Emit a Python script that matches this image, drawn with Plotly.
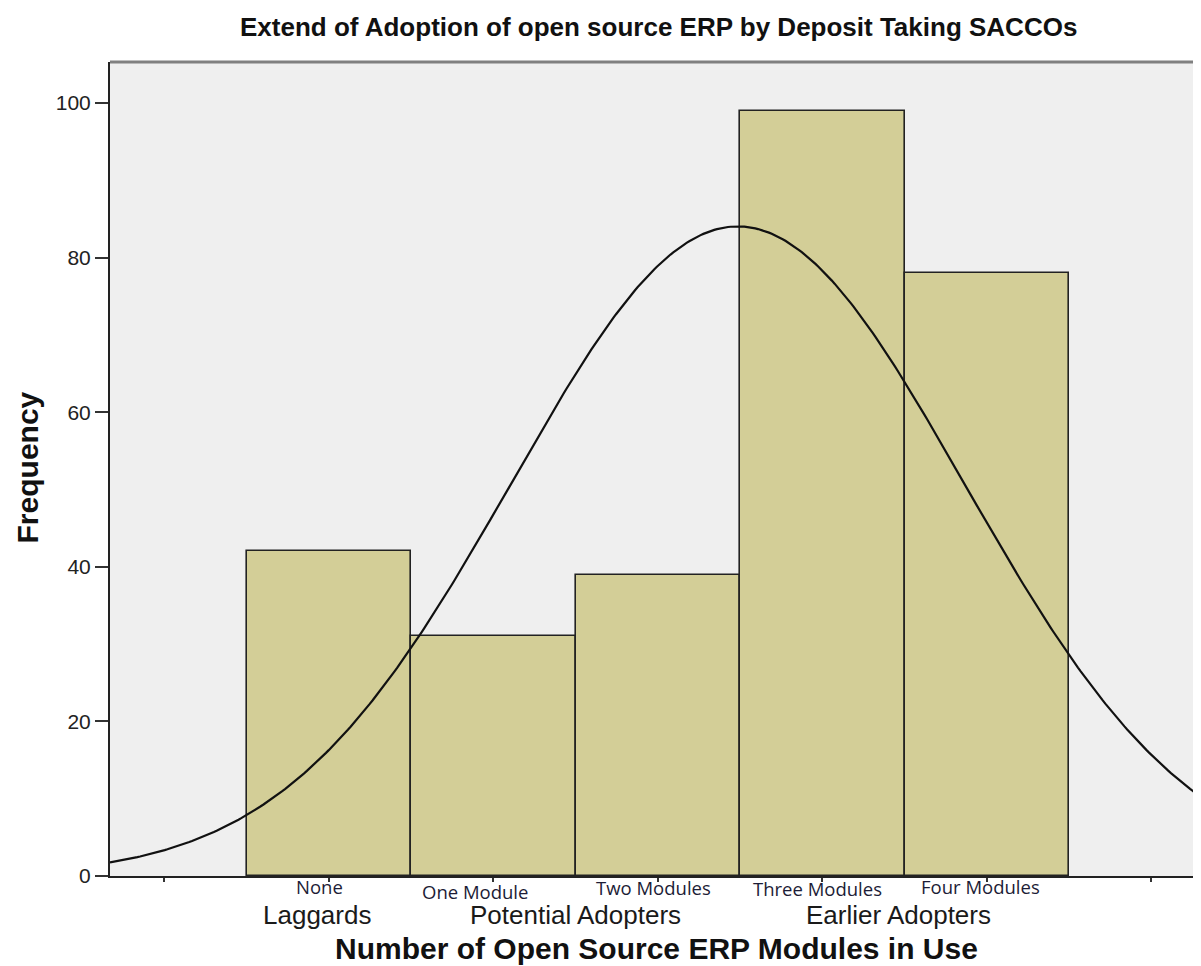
import numpy as np
import plotly.graph_objects as go

# Data
modules = [0, 1, 2, 3, 4]
category_labels = ["None", "One Module", "Two Modules", "Three Modules", "Four Modules"]
frequencies = [42, 31, 39, 99, 78]
groups = ["Laggards", "Potential Adopters", "Earlier Adopters"]
group_x = [-0.073, 1.50, 3.465]
y_ticks = [0, 20, 40, 60, 80, 100]
x_ticks = [-1, 0, 1, 2, 3, 4, 5]

# Fitted normal curve (as SPSS draws it) from the frequency distribution
n_total = sum(frequencies)
vals = np.array(modules, dtype=float)
f = np.array(frequencies, dtype=float)
mean = (vals * f).sum() / n_total
sd = np.sqrt(((vals - mean) ** 2 * f).sum() / (n_total - 1))
x_min, x_max = -1.331, 5.301
xc = np.linspace(x_min, x_max, 400)
yc = n_total / (sd * np.sqrt(2 * np.pi)) * np.exp(-0.5 * ((xc - mean) / sd) ** 2)

fig = go.Figure()
fig.add_trace(go.Bar(
    x=modules, y=frequencies, width=1.0,
    marker=dict(color="#d3ce97", line=dict(color="#222222", width=1.6)),
    showlegend=False, hoverinfo="x+y"))
fig.add_trace(go.Scatter(
    x=xc, y=yc, mode="lines", line=dict(color="#111111", width=2.2),
    showlegend=False, hoverinfo="skip"))

ann = []
label_dx = [-0.055, -0.11, -0.03, -0.03, -0.04]
label_py = [-0.0132, -0.0192, -0.0142, -0.0155, -0.013]
for m, lab, dx, py in zip(modules, category_labels, label_dx, label_py):
    ann.append(dict(x=m + dx, y=py, xref="x", yref="paper", text=lab, showarrow=False,
                    xanchor="center", yanchor="middle", borderpad=0,
                    font=dict(family="Open Sans, Lato, sans-serif", size=18.5, color="#1c1c36")))
group_py = [-0.0485, -0.0485, -0.0485]
for g, gx, gy in zip(groups, group_x, group_py):
    ann.append(dict(x=gx, y=gy, xref="x", yref="paper", text=g, showarrow=False,
                    xanchor="center", yanchor="middle", borderpad=0,
                    font=dict(family="Liberation Sans, Arial, sans-serif", size=26, color="#1a1a1a")))
# axis titles and chart title
ann.append(dict(x=0.501, y=-0.0885, xref="paper", yref="paper",
                text="<b>Number of Open Source ERP Modules in Use</b>", showarrow=False,
                xanchor="center", yanchor="middle",
                font=dict(family="Liberation Sans, Arial, sans-serif", size=30, color="#111111")))
ann.append(dict(x=-0.076, y=0.502, xref="paper", yref="paper", text="<b>Frequency</b>",
                textangle=-90, showarrow=False, xanchor="center", yanchor="middle",
                font=dict(family="Liberation Sans, Arial, sans-serif", size=30, color="#111111")))
ann.append(dict(x=0.503, y=1.043, xref="paper", yref="paper",
                text="<b>Extend of Adoption of open source ERP by Deposit Taking SACCOs</b>",
                showarrow=False, xanchor="center", yanchor="middle",
                font=dict(family="Liberation Sans, Arial, sans-serif", size=26, color="#111111")))

fig.update_layout(
    width=1193, height=958,
    margin=dict(l=102, r=0, t=54, b=90),
    paper_bgcolor="white", plot_bgcolor="#efefef",
    bargap=0,
    annotations=ann,
    xaxis=dict(range=[x_min, x_max], tickvals=x_ticks, ticktext=[""] * len(x_ticks),
               ticks="outside", ticklen=4, tickcolor="#333333", tickwidth=2,
               showgrid=False, zeroline=False, showline=True, linecolor="#222222", linewidth=2),
    yaxis=dict(range=[0, 105.3], tickvals=y_ticks, ticks="outside", ticklen=13, tickwidth=2,
               tickcolor="#333333", showgrid=False, zeroline=False, showline=True,
               linecolor="#222222", linewidth=2,
               tickfont=dict(family="Liberation Sans, Arial, sans-serif", size=21, color="#222222")),
    shapes=[dict(type="line", xref="paper", yref="paper", x0=0, x1=1, y0=1, y1=1,
                 line=dict(color="#808080", width=3))],
)

fig.write_html("out.html")
